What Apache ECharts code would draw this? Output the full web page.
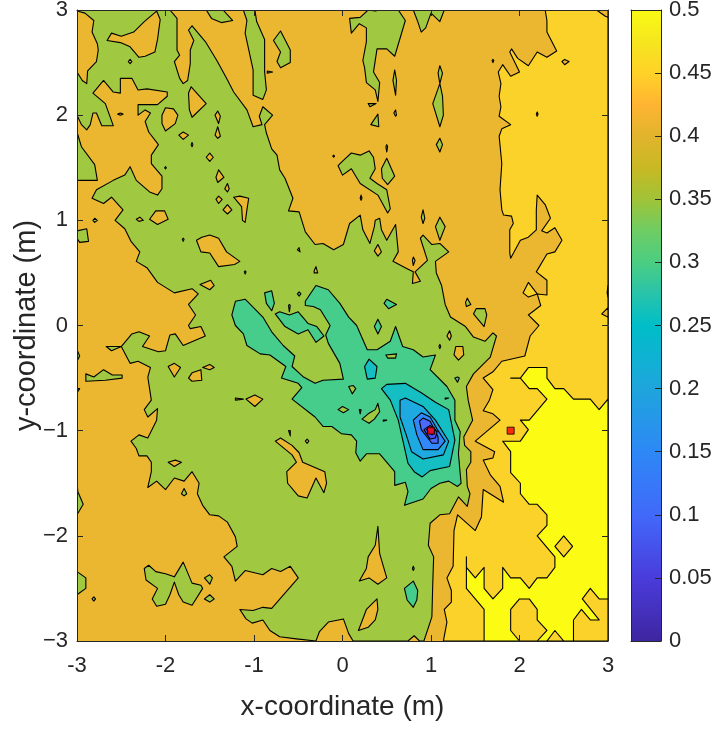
<!DOCTYPE html>
<html><head><meta charset="utf-8">
<style>html,body{margin:0;padding:0;background:#fff}#c{width:720px;height:729px}</style>
<script src="https://cdn.jsdelivr.net/npm/echarts@6/dist/echarts.min.js"></script>
</head><body><div id="c"></div>
<script>
const sources=[[1,-1],[1.9,-1]];
const wholeArea=[[-3,-3],[3,-3],[3,3],[-3,3]];
const lightMain=[[2.29,3],[2.31,2.9],[2.31,2.79],[2.42,2.61],[2.31,2.55],[2.2,2.6],[2.1,2.47],[1.98,2.54],[1.91,2.63],[1.89,2.6],[2,2.41],[1.9,2.37],[1.81,2.48],[1.76,2.41],[1.79,2.3],[1.77,2.18],[1.79,2.08],[1.77,1.99],[1.9,1.91],[1.8,1.87],[1.77,1.8],[1.8,1.54],[1.78,1.29],[1.8,1.1],[1.82,1.05],[1.91,1.04],[1.93,.97],[1.89,.91],[1.89,.69],[1.9,.64],[2.01,.81],[2.1,.84],[2.19,.91],[2.19,1.1],[2.2,1.24],[2.29,1.15],[2.35,1.02],[2.25,.9],[2.31,.88],[2.4,.93],[2.48,.81],[2.4,.7],[2.31,.68],[2.19,.51],[2.31,.43],[2.31,.29],[2.2,.3],[2.24,.19],[2.1,.1],[2.22,0],[2.12,-.1],[2.06,-.29],[1.8,-.34],[1.7,-.44],[1.59,-.5],[1.7,-.61],[1.66,-.71],[1.59,-.81],[1.7,-.84],[1.78,-.9],[1.5,-1.1],[1.72,-1.2],[1.7,-1.26],[1.59,-1.28],[1.67,-1.42],[1.78,-1.53],[1.82,-1.68],[1.59,-1.56],[1.57,-1.82],[1.5,-1.95],[1.3,-1.8],[1.26,-1.95],[1.25,-2.29],[1.18,-2.4],[1.23,-2.52],[1.23,-2.63],[1.15,-2.7],[1.18,-2.82],[1.14,-3],[3,-3],[3,3]];
const lightIslands=[[[2.04,.31],[2.1,.41],[2.2,.3],[2.1,.27]]];
const yellowMain=[[1.6,-3],[1.6,-2.7],[1.4,-2.5],[1.4,-2.2],[1.4,-2.3],[1.5,-2.4],[1.6,-2.3],[1.6,-2.5],[1.7,-2.6],[1.81,-2.5],[1.81,-2.3],[1.9,-2.4],[2.01,-2.4],[2.11,-2.5],[2.2,-2.4],[2.31,-2.4],[2.4,-2.3],[2.4,-2.2],[2.2,-2],[2.31,-1.9],[2.31,-1.8],[2.2,-1.7],[2.11,-1.7],[2.01,-1.6],[2.01,-1.5],[1.9,-1.4],[1.9,-1.2],[1.81,-1.1],[2.01,-1.1],[2.1,-.99],[2.01,-.9],[2.11,-.9],[2.31,-.7],[2.2,-.6],[2.11,-.6],[2.01,-.5],[1.9,-.5],[2.01,-.5],[2.1,-.4],[2.31,-.4],[2.31,-.5],[2.4,-.6],[2.5,-.6],[2.61,-.7],[2.8,-.7],[2.9,-.8],[3,-.7],[3,-3]];
const lightOnYellow=[
[[2,-2.6],[2.11,-2.6],[2.2,-2.7],[2.2,-2.8],[2.31,-2.9],[2.2,-3],[2,-3],[1.9,-2.9],[1.9,-2.7]],
[[2.31,-3],[2.4,-2.9],[2.5,-3]],
[[2.61,-3],[2.61,-2.8],[2.7,-2.7],[2.8,-2.8],[2.9,-2.8],[2.71,-2.6],[2.8,-2.5],[2.9,-2.6],[3,-2.6],[3,-3]],
[[2.4,-2.1],[2.5,-2],[2.6,-2.1],[2.5,-2.2]]];
const orangeOnLight=[
[[2.87,3],[2.97,2.94],[3,2.93],[3,3]],
[[2.48,2.51],[2.51,2.53],[2.56,2.51],[2.51,2.48]],
[[2.19,2.01],[2.2,2.03],[2.21,2.01],[2.2,1.99]],
[[2.93,.11],[3,.17],[3,.08]],
[[3,.38],[2.99,.31],[3,.27]]];
const greenMain=[[-3,3],[-1.95,3],[-1.87,2.92],[-1.87,2.62],[-1.84,2.57],[-1.9,2.51],[-1.84,2.35],[-1.8,2.3],[-1.75,2.33],[-1.72,2.49],[-1.72,2.62],[-1.68,2.71],[-1.74,2.81],[-1.7,2.85],[-1.55,2.7],[-1.42,2.52],[-1.31,2.35],[-1.23,2.22],[-1.08,2.05],[-1.01,1.89],[-.91,1.91],[-.94,1.99],[-.9,2.08],[-.79,2],[-.88,1.91],[-.86,1.83],[-.8,1.68],[-.74,1.62],[-.71,1.48],[-.65,1.4],[-.56,1.21],[-.61,1.09],[-.49,1.08],[-.42,.89],[-.31,.77],[-.22,.78],[-.1,.72],[.01,.77],[.08,.97],[.2,1.05],[.23,.91],[.31,.78],[.36,.94],[.37,1],[.42,1.02],[.44,.91],[.5,.81],[.6,.96],[.63,.7],[.57,.61],[.73,.54],[.8,.51],[.79,.4],[.88,.42],[.82,.51],[.96,.62],[.88,.83],[.91,.86],[1.01,.77],[1.1,.78],[1.2,.7],[1.05,.61],[1.06,.5],[1.12,.38],[1.16,.2],[1.22,.08],[1.39,-.01],[1.48,-.11],[1.61,-.15],[1.7,-.07],[1.74,-.1],[1.67,-.3],[1.48,-.46],[1.4,-.58],[1.42,-.71],[1.47,-.9],[1.37,-1.06],[1.38,-1.14],[1.45,-1.2],[1.45,-1.3],[1.4,-1.37],[1.41,-1.53],[1.44,-1.6],[1.41,-1.72],[1.31,-1.63],[1.21,-1.79],[1.1,-1.8],[.99,-1.88],[.97,-2.09],[1.03,-2.2],[1.02,-2.45],[1.01,-2.77],[.92,-3],[.87,-3],[.81,-2.95],[.74,-3],[.12,-3],[.07,-2.93],[.01,-2.79],[-.16,-2.82],[-.26,-2.91],[-.3,-3],[-.52,-2.98],[-.71,-2.96],[-.82,-2.9],[-.9,-2.8],[-1.02,-2.83],[-1.09,-2.79],[-1.16,-2.7],[-1.01,-2.71],[-.9,-2.68],[-.8,-2.69],[-.5,-2.4],[-.59,-2.29],[-.7,-2.34],[-.8,-2.31],[-.9,-2.37],[-1.1,-2.33],[-1.21,-2.43],[-1.25,-2.29],[-1.34,-2.2],[-1.19,-2.1],[-1.21,-2.01],[-1.3,-1.87],[-1.4,-1.81],[-1.5,-1.8],[-1.58,-1.71],[-1.64,-1.6],[-1.62,-1.5],[-1.7,-1.39],[-1.79,-1.48],[-1.9,-1.45],[-2,-1.56],[-2.1,-1.48],[-2.2,-1.54],[-2.16,-1.39],[-2.16,-1.3],[-2.21,-1.24],[-2.3,-1.24],[-2.33,-1.17],[-2.39,-1.1],[-2.3,-1.04],[-2.2,-1.07],[-2.1,-.9],[-2.09,-.79],[-2.2,-.87],[-2.24,-.8],[-2.16,-.71],[-2.18,-.6],[-2.2,-.49],[-2.17,-.4],[-2.31,-.34],[-2.4,-.36],[-2.5,-.2],[-2.61,-.24],[-2.67,-.2],[-2.5,-.2],[-2.38,-.08],[-2.3,-.06],[-2.18,-.1],[-2.26,-.2],[-2.08,-.25],[-2,-.24],[-1.95,-.09],[-1.89,-.08],[-1.8,-.19],[-1.55,-.1],[-1.6,-.01],[-1.72,-.03],[-1.74,0],[-1.66,.1],[-1.74,.2],[-1.63,.3],[-1.7,.35],[-1.9,.31],[-2.09,.41],[-2.21,.55],[-2.33,.61],[-2.29,.7],[-2.39,.8],[-2.46,.92],[-2.57,1],[-2.48,1.1],[-2.61,1.22],[-2.7,1.16],[-2.83,1.21],[-2.78,1.29],[-2.59,1.38],[-2.46,1.43],[-2.4,1.51],[-2.33,1.38],[-2.18,1.27],[-2.09,1.24],[-2.04,1.3],[-2.04,1.42],[-2.16,1.54],[-2.16,1.62],[-2.08,1.72],[-2.19,1.84],[-2.23,1.94],[-2.17,2.02],[-2.23,2.05],[-2.31,2],[-2.31,2.1],[-2.09,2.1],[-1.98,2.18],[-1.98,2.22],[-2.21,2.25],[-2.31,2.24],[-2.38,2.35],[-2.51,2.35],[-2.51,2.21],[-2.59,2.22],[-2.7,2.33],[-2.82,2.21],[-2.68,2.11],[-2.59,1.9],[-2.72,1.9],[-2.78,2.02],[-2.82,2.02],[-2.85,1.91],[-2.89,1.86],[-2.95,1.91],[-3,2]];
const orangeHoles=[
[[-3,2.99],[-2.91,2.97],[-2.81,2.9],[-2.83,2.79],[-2.77,2.68],[-2.76,2.62],[-2.78,2.51],[-2.88,2.42],[-2.89,2.3],[-2.94,2.33],[-3,2.41]],
[[-2.66,2.71],[-2.61,2.78],[-2.5,2.75],[-2.36,2.79],[-2.24,2.89],[-2.1,2.99],[-2.06,2.91],[-2.09,2.72],[-2.12,2.6],[-2.23,2.56],[-2.3,2.55],[-2.4,2.65],[-2.51,2.69]],
[[-2.42,2.51],[-2.4,2.53],[-2.38,2.51],[-2.4,2.49]],
[[-1.71,2.27],[-1.54,2.11],[-1.7,1.98],[-1.73,2.05],[-1.74,2.21]],
[[-2.04,2],[-2,2.07],[-1.91,2.06],[-1.86,2],[-1.89,1.92],[-2,1.85],[-2.04,1.92]],
[[-2.54,2.01],[-2.51,2.02],[-2.48,2.01],[-2.51,2]],
[[-1.85,1.81],[-1.8,1.84],[-1.74,1.81],[-1.8,1.77]],
[[-1.44,2],[-1.41,2.04],[-1.38,1.99],[-1.4,1.92]],
[[-1.41,1.89],[-1.38,1.8],[-1.41,1.78],[-1.44,1.81]],
[[-1.71,1.72],[-1.7,1.74],[-1.69,1.72],[-1.7,1.7]],
[[-2.01,1.5],[-2,1.51],[-1.99,1.5],[-2,1.49]],
[[-1.54,1.6],[-1.5,1.64],[-1.46,1.6],[-1.5,1.56]],
[[-1.43,1.41],[-1.4,1.48],[-1.34,1.41],[-1.41,1.36]],
[[-1.33,1.3],[-1.3,1.35],[-1.28,1.3],[-1.3,1.27]],
[[-1.43,1.2],[-1.4,1.23],[-1.36,1.2],[-1.4,1.16]],
[[-1.35,1.1],[-1.3,1.15],[-1.25,1.1],[-1.3,1.06]],
[[-1.23,1.22],[-1.16,1.23],[-1.06,1.21],[-1.08,1.1],[-1.1,.98],[-1.13,1],[-1.14,1.13]],
[[-2.33,1.01],[-2.29,1.03],[-2.25,1],[-2.3,.99]],
[[-2.18,1.01],[-2.11,1.09],[-2.01,1.09],[-1.97,1.01],[-2.09,.96]],
[[-1.81,.82],[-1.8,.83],[-1.79,.82],[-1.8,.8]],
[[-1.65,.81],[-1.59,.84],[-1.5,.86],[-1.4,.83],[-1.31,.7],[-1.16,.61],[-1.22,.58],[-1.4,.56],[-1.5,.69],[-1.6,.7]],
[[-1.11,.51],[-1.1,.52],[-1.09,.51],[-1.1,.49]],
[[-1.61,.39],[-1.49,.43],[-1.45,.38],[-1.5,.34]],
[[-1.97,-.39],[-1.9,-.36],[-1.83,-.4],[-1.9,-.49]],
[[-1.74,-.5],[-1.7,-.45],[-1.6,-.42],[-1.59,-.52],[-1.7,-.53]],
[[-1.58,-.4],[-1.5,-.37],[-1.45,-.4],[-1.5,-.42]],
[[-1.09,-.7],[-.99,-.66],[-.9,-.7],[-.99,-.77]],
[[-1.21,-.69],[-1.12,-.7],[-1.21,-.71]],
[[-1.97,-1.3],[-1.89,-1.28],[-1.82,-1.3],[-1.9,-1.34]],
[[-.51,.72],[-.49,.74],[-.48,.7]],
[[-.32,.52],[-.3,.56],[-.28,.5],[-.32,.5]],
[[.36,.71],[.4,.77],[.44,.7],[.4,.66]],
[[1.18,-.1],[1.21,-.05],[1.23,-.1],[1.21,-.14]],
[[1.09,-.2],[1.1,-.18],[1.11,-.2],[1.1,-.22]],
[[1.26,-.28],[1.28,-.2],[1.36,-.2],[1.37,-.28],[1.31,-.33]],
[[-.61,-1],[-.59,-1],[-.59,-1.05]],
[[-.42,-1.1],[-.4,-1.08],[-.38,-1.1],[-.4,-1.12]],
[[-.76,-1.1],[-.7,-1.07],[-.57,-1.14],[-.49,-1.21],[-.45,-1.3],[-.2,-1.39],[-.18,-1.5],[-.21,-1.59],[-.3,-1.45],[-.4,-1.64],[-.5,-1.62],[-.62,-1.5],[-.63,-1.39],[-.52,-1.3],[-.57,-1.23]],
[[.4,-1.91],[.42,-2.17],[.5,-2.4],[.4,-2.46],[.3,-2.4],[.19,-2.43],[.27,-2.31],[.29,-2.2],[.37,-2.09]],
[[.18,-2.9],[.27,-2.7],[.39,-2.6],[.4,-2.7],[.37,-2.8],[.29,-2.87]]];
const greenIslands=[
[[-1.12,3],[-1.08,2.9],[-1.1,2.78],[-1.01,2.43],[-1.01,2.19],[-.9,2.15],[-.86,2.24],[-.88,2.41],[-.88,2.72],[-.97,2.89],[-.99,3]],
[[-1.54,3],[-1.48,2.92],[-1.37,2.88],[-1.24,2.9],[-1.35,3]],
[[-3,1.84],[-2.95,1.7],[-2.8,1.53],[-2.77,1.38],[-3,1.38]],
[[-2.82,1],[-2.8,1.02],[-2.77,1],[-2.8,.98]],
[[-3,.9],[-2.89,.92],[-2.87,.8],[-2.97,.79],[-3,.83]],
[[-3,-.23],[-2.97,-.29],[-3,-.34]],
[[-2.9,-.46],[-2.81,-.49],[-2.7,-.42],[-2.6,-.47],[-2.49,-.47],[-2.49,-.5],[-2.68,-.52],[-2.9,-.53]],
[[-3,-.6],[-2.97,-.6],[-3,-.64]],
[[-1.82,-1.6],[-1.79,-1.55],[-1.76,-1.6],[-1.79,-1.62]],
[[-2.24,-2.31],[-2.19,-2.28],[-2.11,-2.34],[-2,-2.36],[-1.9,-2.39],[-1.8,-2.25],[-1.7,-2.45],[-1.6,-2.47],[-1.58,-2.5],[-1.7,-2.66],[-1.8,-2.63],[-1.85,-2.56],[-1.9,-2.44],[-1.95,-2.56],[-2,-2.65],[-2.1,-2.67],[-2.15,-2.6],[-2.09,-2.5],[-2.22,-2.42]],
[[-1.56,-2.4],[-1.5,-2.37],[-1.47,-2.4],[-1.5,-2.46]],
[[-1.56,-2.6],[-1.5,-2.56],[-1.45,-2.6],[-1.5,-2.63]],
[[-3,-1.5],[-2.99,-1.58],[-2.93,-1.7],[-3,-1.8]],
[[-3,-2.34],[-2.9,-2.4],[-2.9,-2.5],[-3,-2.56]],
[[-2.83,-2.6],[-2.81,-2.58],[-2.79,-2.6],[-2.81,-2.62]],
[[.79,.62],[.8,.65],[.82,.62],[.8,.57]],
[[.89,1.03],[.91,1.1],[.93,1.02],[.91,.97]],
[[1.05,.94],[1.1,1.03],[1.16,.94],[1.1,.81]],
[[-.78,2.71],[-.7,2.8],[-.59,2.62],[-.59,2.5],[-.7,2.45],[-.74,2.51],[-.7,2.6]],
[[-.85,2.42],[-.79,2.41],[-.85,2.4]],
[[.08,2.92],[.2,2.93],[.29,3],[.37,2.99],[.42,3],[.63,3],[.71,2.9],[.59,2.56],[.5,2.63],[.39,2.63],[.35,2.41],[.42,2.31],[.4,2.13],[.37,2.24],[.27,2.31],[.25,2.45],[.23,2.52],[.27,2.7],[.27,2.83],[.19,2.87],[.1,2.78]],
[[.59,2.43],[.61,2.33],[.6,2.19],[.57,2.33]],
[[.29,2.11],[.38,2.11],[.31,2.08]],
[[.58,2.02],[.6,2.05],[.61,2],[.6,1.99]],
[[.32,1.91],[.4,2.01],[.41,1.89]],
[[1.1,2.47],[1.13,2.4],[1.1,2.3],[1.13,2.18],[1.14,2],[1.1,1.89],[1.02,2.11],[1.1,2.3],[1.08,2.4]],
[[1.1,1.78],[1.13,1.72],[1.1,1.65],[1.06,1.72]],
[[.49,1.7],[.5,1.72],[.51,1.7],[.5,1.65]],
[[-.11,1.61],[-.1,1.62],[-.09,1.61],[-.1,1.6]],
[[-.05,1.52],[.01,1.57],[.1,1.64],[.2,1.62],[.3,1.66],[.35,1.6],[.37,1.49],[.31,1.4],[.39,1.35],[.5,1.29],[.54,1.11],[.51,1.07],[.4,1.24],[.2,1.35],[.1,1.49],[0,1.43]],
[[.44,1.49],[.5,1.59],[.59,1.42],[.51,1.34],[.45,1.4]],
[[.2,1.21],[.21,1.24],[.22,1.21],[.21,1.19]],
[[.8,3],[.85,2.89],[.89,2.79],[.94,2.83],[1,2.97],[1.1,2.89],[1.15,3]],
[[1.69,2.52],[1.7,2.53],[1.71,2.52],[1.7,2.5]],
[[1.39,.22],[1.41,.26],[1.45,.2],[1.4,.18]],
[[1.48,.11],[1.51,.16],[1.61,.16],[1.63,.1],[1.6,-.01]]];
const tealMain=[[-1.25,.1],[-1.21,.23],[-1.1,.25],[-.9,.08],[-.8,-.06],[-.67,-.19],[-.54,-.29],[-.57,-.39],[-.44,-.49],[-.31,-.55],[-.22,-.52],[.01,-.51],[-.03,-.36],[-.16,-.17],[-.19,-.09],[-.14,0],[-.25,.15],[-.33,.18],[-.42,.19],[-.42,.23],[-.3,.38],[-.16,.34],[-.03,.21],[.07,.08],[.16,0],[.28,-.23],[.39,-.23],[.54,-.15],[.6,-.01],[.68,-.2],[.8,-.23],[.91,-.3],[1.05,-.28],[.99,-.42],[1.18,-.58],[1.27,-.71],[1.27,-.9],[1.33,-1.01],[1.31,-1.22],[1.33,-1.41],[1.34,-1.5],[1.3,-1.53],[1.2,-1.48],[1.1,-1.5],[1,-1.55],[.91,-1.65],[.7,-1.71],[.74,-1.58],[.71,-1.49],[.59,-1.52],[.59,-1.39],[.42,-1.22],[.27,-1.22],[.2,-1.29],[.15,-1.21],[.16,-1.1],[.1,-1.04],[-.01,-1.03],[-.12,-.96],[-.22,-.96],[-.31,-.87],[-.57,-.7],[-.46,-.59],[-.5,-.55],[-.69,-.5],[-.64,-.39],[-.82,-.28],[-.93,-.27],[-1.08,-.19],[-1.12,-.08],[-1.21,0]];
const tealIslands=[
[[-.76,.11],[-.71,.13],[-.6,.1],[-.5,.13],[-.39,.02],[-.29,-.01],[-.21,-.1],[-.3,-.16],[-.39,-.04],[-.5,-.08],[-.65,-.01]],
[[-.88,.31],[-.8,.33],[-.77,.21],[-.8,.14],[-.86,.21]],
[[-.51,.3],[-.49,.32],[-.47,.3],[-.49,.28]],
[[-.61,.19],[-.6,.2],[-.59,.19],[-.6,.13]],
[[.47,.21],[.5,.25],[.61,.2],[.52,.16]],
[[.36,-.01],[.4,.06],[.44,-.01],[.4,-.08]],
[[1.27,-.5],[1.3,-.49],[1.32,-.5],[1.3,-.54]],
[[.7,-2.5],[.8,-2.43],[.85,-2.52],[.84,-2.61],[.8,-2.68],[.73,-2.61]],
[[.79,-2.31],[.8,-2.29],[.81,-2.31],[.8,-2.33]]];
const greenOnTeal=[
[[.49,-.28],[.61,-.27],[.6,-.31],[.51,-.31]],
[[.07,-.58],[.12,-.57],[.15,-.6],[.11,-.65]],
[[-.05,-.8],[0,-.77],[.07,-.8],[.01,-.83]],
[[.19,-.8],[.21,-.8],[.2,-.84]],
[[.22,-.89],[.29,-.84],[.37,-.8],[.4,-.74],[.42,-.82],[.36,-.89],[.3,-.93]],
[[.46,-.9],[.5,-.9],[.46,-.91]],
[[1.16,-.69],[1.2,-.69],[1.16,-.7]]];
const cyanLevel=[
[[.25,-.39],[.3,-.32],[.39,-.39],[.37,-.5],[.28,-.51]],
[[.44,-.6],[.5,-.56],[.71,-.55],[.89,-.64],[1.05,-.73],[1.2,-.8],[1.27,-1.09],[1.21,-1.34],[1.1,-1.36],[.99,-1.38],[.9,-1.44],[.81,-1.39],[.74,-1.31],[.63,-.9],[.54,-.71]]];
const skyLevel=[[.65,-.71],[.71,-.69],[.91,-.77],[1.05,-.9],[1.2,-1.1],[1.14,-1.23],[.91,-1.27],[.78,-1.2],[.72,-1.04],[.65,-.87]];
const blueLevel=[[.8,-.9],[.89,-.83],[.99,-.87],[1.08,-1],[1.16,-1.1],[1.08,-1.18],[.91,-1.18],[.84,-1.04]];
const indigoLevel=[[.87,-.91],[.91,-.88],[.99,-.91],[1.08,-1.06],[1.08,-1.12],[1.01,-1.12],[.89,-.99]];
const violetLevel=[[.92,-.99],[.99,-.95],[1.07,-1.01],[1.05,-1.07],[.99,-1.08]];
const coreLevel=[[.95,-.99],[.99,-.97],[1.05,-.99],[1.01,-1.04]];
const cbStops=[[0,'#3e26a0'],[.05,'#4a3cdc'],[.1,'#4169fa'],[.15,'#2d88f5'],[.2,'#1ea5dc'],[.25,'#00bec8'],[.275,'#28c3aa'],[.3,'#4bcd82'],[.325,'#6ecd64'],[.35,'#a0c337'],[.375,'#c8b923'],[.4,'#e1b42d'],[.425,'#ffb432'],[.45,'#ffd228'],[.475,'#f5e61e'],[.5,'#fafa14']];

const ORANGE='#ebb630',GREEN='#a0c840',LIGHT='#fbd229',YELLOW='#fbfb14',TEAL='#46cd8c',CYAN='#14bec3',SKY='#1eaae1',BLUE='#3287fa',INDIGO='#4b69fa',VIOLET='#4a50f0';
const layers=[];
const add=(pts,fill,line)=>layers.push({pts,fill,line});
const addAll=(l,fill)=>l.forEach(p=>add(p,fill,true));
add(wholeArea,ORANGE,false);
add(lightMain,LIGHT,true);addAll(lightIslands,LIGHT);
add(yellowMain,YELLOW,true);addAll(lightOnYellow,LIGHT);addAll(orangeOnLight,ORANGE);
add(greenMain,GREEN,true);addAll(orangeHoles,ORANGE);addAll(greenIslands,GREEN);
add(tealMain,TEAL,true);addAll(tealIslands,TEAL);
addAll(greenOnTeal,GREEN);
addAll(cyanLevel,CYAN);add(skyLevel,SKY,true);add(blueLevel,BLUE,true);add(indigoLevel,INDIGO,true);add(violetLevel,VIOLET,true);add(coreLevel,'#4650e6',true);

const INK='#262626';
const axisBase={axisLine:{show:true,onZero:false,lineStyle:{color:INK,width:1}},axisTick:{show:true,inside:true,length:6,lineStyle:{color:INK,width:1}},splitLine:{show:false},z:10};
const chart=echarts.init(document.getElementById('c'),null,{renderer:'canvas'});
chart.setOption({
 animation:false,backgroundColor:'#fff',
 grid:[{left:77,top:10,width:531,height:631,outerBoundsMode:'none'},{left:631,top:10,width:30,height:631,outerBoundsMode:'none'}],
 xAxis:[
  {...axisBase,type:'value',gridIndex:0,position:'bottom',min:-3,max:3,interval:1,name:'x-coordinate (m)',nameLocation:'middle',nameGap:52,nameMoveOverlap:false,nameTextStyle:{color:INK,fontFamily:'Liberation Sans',fontSize:28},axisLabel:{color:INK,fontFamily:'Liberation Sans',fontSize:22,margin:14,formatter:v=>String(v)}},
  {...axisBase,type:'value',gridIndex:0,position:'top',min:-3,max:3,interval:1,axisLabel:{show:false}},
  {...axisBase,type:'value',gridIndex:1,position:'bottom',min:0,max:1,axisTick:{show:false},axisLabel:{show:false}},
  {...axisBase,type:'value',gridIndex:1,position:'top',min:0,max:1,axisTick:{show:false},axisLabel:{show:false}}
 ],
 yAxis:[
  {...axisBase,type:'value',gridIndex:0,position:'left',min:-3,max:3,interval:1,name:'y-coordinate (m)',nameLocation:'middle',nameGap:36,nameMoveOverlap:false,nameTextStyle:{color:INK,fontFamily:'Liberation Sans',fontSize:29},axisLabel:{color:INK,fontFamily:'Liberation Sans',fontSize:22,margin:9,padding:[5,0,0,0],formatter:v=>String(v).replace('-','\u2212')}},
  {...axisBase,type:'value',gridIndex:0,position:'right',min:-3,max:3,interval:1,axisLabel:{show:false}},
  {...axisBase,type:'value',gridIndex:1,position:'left',min:0,max:.5,interval:.05,axisTick:{show:false},axisLabel:{show:false}},
  {...axisBase,type:'value',gridIndex:1,position:'right',min:0,max:.5,interval:.05,axisLabel:{color:INK,fontFamily:'Liberation Sans',fontSize:22,margin:8,padding:[6,0,0,0],formatter:v=>String(+v.toFixed(2))}}
 ],
 series:[
  {type:'custom',xAxisIndex:0,yAxisIndex:0,clip:true,z:2,silent:true,data:layers.map((l,i)=>[i]),encode:{x:0},
   renderItem:(params,api)=>{const l=layers[params.dataIndex];
    return {type:'polygon',shape:{points:l.pts.map(p=>api.coord(p))},style:{fill:l.fill,stroke:l.line?'#000':null,lineWidth:l.line?1.1:0,lineJoin:'round'}};}},
  {type:'scatter',xAxisIndex:0,yAxisIndex:0,z:5,silent:true,symbol:'rect',symbolSize:7,itemStyle:{color:'#f00',borderColor:'#000',borderWidth:1},data:sources},
  {type:'custom',xAxisIndex:2,yAxisIndex:2,z:2,silent:true,data:[[0]],encode:{x:0},
   renderItem:(params,api)=>{const a=api.coord([0,0]),b=api.coord([1,.5]);
    return {type:'rect',shape:{x:a[0],y:b[1],width:b[0]-a[0],height:a[1]-b[1]},
     style:{fill:new echarts.graphic.LinearGradient(0,1,0,0,cbStops.map(s=>({offset:s[0]/.5,color:s[1]})))}};}}
 ]
});
</script></body></html>
